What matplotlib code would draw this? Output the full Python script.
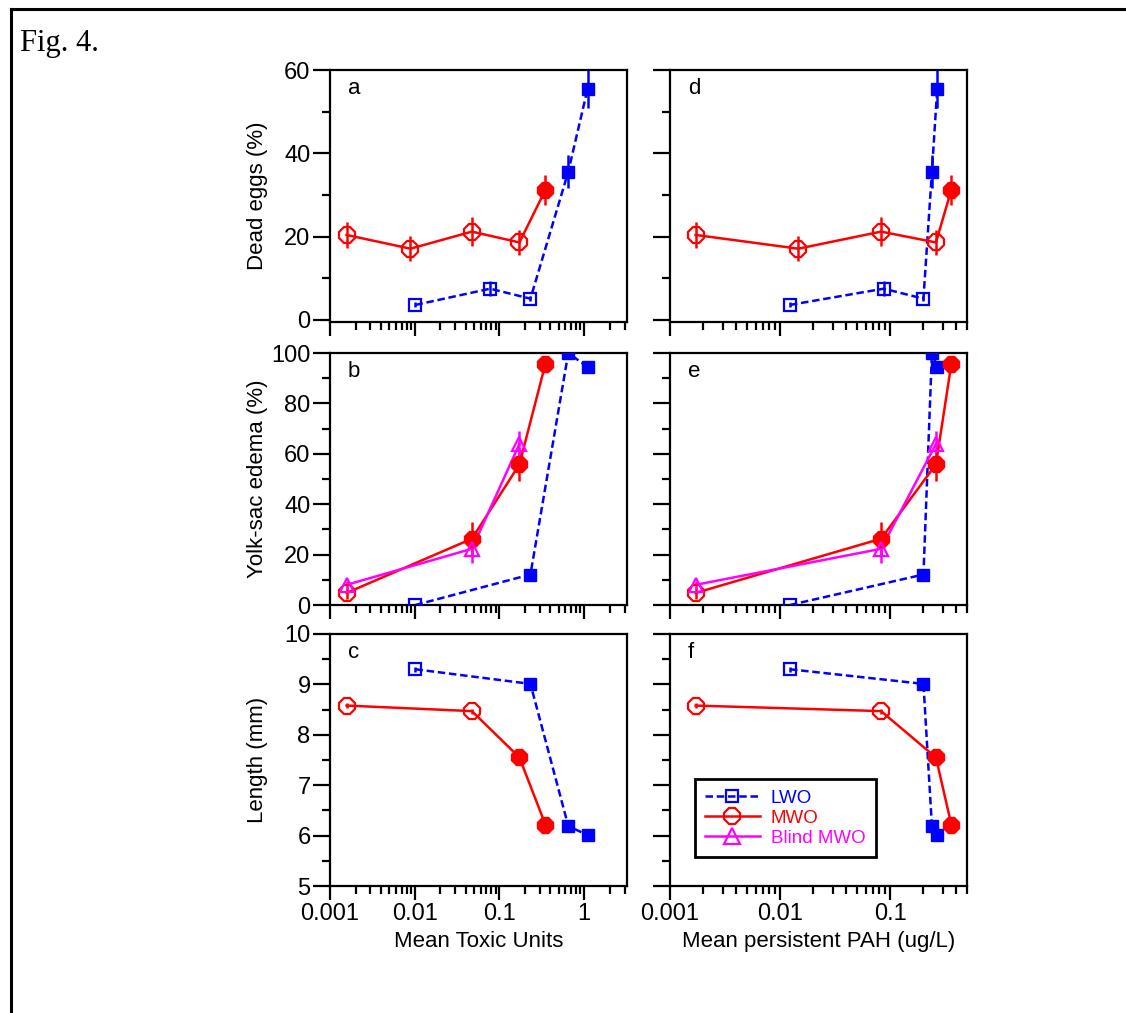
import numpy as np
import matplotlib
matplotlib.use("Agg")
import matplotlib.pyplot as plt
from matplotlib.lines import Line2D
from matplotlib.ticker import FixedLocator, MultipleLocator, LogLocator, NullFormatter, FixedFormatter

plt.rcParams['font.family'] = ['Liberation Sans', 'DejaVu Sans']

# x values (one per sample), toxic units and persistent PAH
tu_lwo = [0.0102, 0.0776, 0.232, 0.649, 1.094]
tu_mwo = [0.00157, 0.0089, 0.0473, 0.172, 0.348]
pah_lwo = [0.0123, 0.0875, 0.201, 0.240, 0.268]
pah_mwo = [0.00171, 0.01466, 0.0828, 0.261, 0.360]

# dead eggs (%)
dead_lwo_idx = [0, 1, 2, 3, 4]
dead_lwo = [3.6, 7.5, 5.1, 35.6, 55.4]
dead_lwo_err = [0.6, 1.8, 0.6, 4.0, 4.5]
dead_lwo_sig = [0, 0, 0, 1, 1]
dead_mwo_idx = [0, 1, 2, 3, 4]
dead_mwo = [20.4, 17.1, 21.2, 18.6, 31.2]
dead_mwo_err = [3.2, 3.0, 3.5, 3.0, 3.5]
dead_mwo_sig = [0, 0, 0, 0, 1]

# yolk-sac edema (%)
ede_lwo_idx = [0, 2, 3, 4]
ede_lwo = [0.0, 12.1, 100.0, 94.5]
ede_lwo_err = [0.0, 1.5, 0.0, 1.5]
ede_lwo_sig = [0, 1, 1, 1]
ede_mwo_idx = [0, 2, 3, 4]
ede_mwo = [4.8, 26.3, 55.8, 95.6]
ede_mwo_err = [2.5, 6.5, 6.5, 1.5]
ede_mwo_sig = [0, 1, 1, 1]
ede_blind_idx = [0, 2, 3]
ede_blind = [8.0, 22.3, 63.9]
ede_blind_err = [1.5, 5.5, 5.0]

# length (mm)
len_lwo_idx = [0, 2, 3, 4]
len_lwo = [9.30, 9.01, 6.19, 6.01]
len_lwo_err = [0.05, 0.05, 0.05, 0.05]
len_lwo_sig = [0, 1, 1, 1]
len_mwo_idx = [0, 2, 3, 4]
len_mwo = [8.58, 8.47, 7.55, 6.22]
len_mwo_err = [0.05, 0.05, 0.05, 0.05]
len_mwo_sig = [0, 0, 1, 1]

BLUE = '#0000FF'
RED = '#FF0000'
MAG = '#FF00FF'
DASH = (0, (3, 1.5))

fig = plt.figure(figsize=(11.26, 10.13), dpi=100)

# outer frame
fig.add_artist(Line2D([10.5/1126, 10.5/1126], [0, 1 - 9/1013], transform=fig.transFigure, color='k', lw=2.2))
fig.add_artist(Line2D([10.5/1126, 1], [1 - 9/1013, 1 - 9/1013], transform=fig.transFigure, color='k', lw=2.2))
fig.text(20/1126, 1 - 44/1013, "Fig. 4.", family=['Liberation Serif', 'DejaVu Serif'], fontsize=22, va='center', ha='left')

W = 297/1126
H = 252/1013
lefts = [330/1126, 670/1126]
bottoms = [1 - 322/1013, 1 - 605/1013, 1 - 886/1013]


def series(ax, xs, idx, y, err, sig, color, ls, marker, ms_open, ms_fill):
    x = np.array([xs[i] for i in idx])
    y = np.array(y)
    ax.errorbar(x, y, yerr=err, color=color, ls=ls, lw=1.8, capsize=0, elinewidth=1.8, zorder=3)
    sig = np.array(sig, dtype=bool)
    ax.plot(x[~sig], y[~sig], ls='none', marker=marker, ms=ms_open, mfc='none', mec=color, mew=1.6, zorder=4)
    ax.plot(x[sig], y[sig], ls='none', marker=marker, ms=ms_fill, mfc=color, mec=color, zorder=4)


def style(ax, col, row, ylim, ymaj, ymin):
    ax.set_xscale('log')
    ax.set_xlim(0.001, 3.2 if col == 0 else 0.5)
    ax.set_ylim(*ylim)
    ax.yaxis.set_major_locator(MultipleLocator(ymaj))
    ax.yaxis.set_minor_locator(MultipleLocator(ymin))
    ax.xaxis.set_major_locator(FixedLocator([0.001, 0.01, 0.1, 1]))
    ax.xaxis.set_minor_locator(LogLocator(base=10, subs=np.arange(2, 10)))
    ax.xaxis.set_minor_formatter(NullFormatter())
    if row == 2:
        ax.xaxis.set_major_formatter(FixedFormatter(['0.001', '0.01', '0.1', '1']))
    else:
        ax.xaxis.set_major_formatter(NullFormatter())
    if col == 1:
        ax.yaxis.set_major_formatter(NullFormatter())
    ax.tick_params(which='major', direction='out', length=12, width=1.6, labelsize=17, pad=2)
    ax.tick_params(which='minor', direction='out', length=6, width=1.6)
    ax.tick_params(axis='x', which='major', length=10)
    for s in ax.spines.values():
        s.set_linewidth(1.6)


panels = {}
for row in range(3):
    for col in range(2):
        panels[(row, col)] = fig.add_axes([lefts[col], bottoms[row], W, H])

letters = [['a', 'd'], ['b', 'e'], ['c', 'f']]

for col in range(2):
    xl = tu_lwo if col == 0 else pah_lwo
    xm = tu_mwo if col == 0 else pah_mwo

    ax = panels[(0, col)]
    series(ax, xl, dead_lwo_idx, dead_lwo, dead_lwo_err, dead_lwo_sig, BLUE, DASH, 's', 8, 9)
    series(ax, xm, dead_mwo_idx, dead_mwo, dead_mwo_err, dead_mwo_sig, RED, '-', '8', 12, 12)
    style(ax, col, 0, (-0.5, 60), 20, 10)

    ax = panels[(1, col)]
    series(ax, xl, ede_lwo_idx, ede_lwo, ede_lwo_err, ede_lwo_sig, BLUE, DASH, 's', 8, 9)
    series(ax, xm, ede_mwo_idx, ede_mwo, ede_mwo_err, ede_mwo_sig, RED, '-', '8', 12, 12)
    series(ax, xm, ede_blind_idx, ede_blind, ede_blind_err, [0, 0, 0], MAG, '-', '^', 10, 10)
    style(ax, col, 1, (0, 100), 20, 10)

    ax = panels[(2, col)]
    series(ax, xl, len_lwo_idx, len_lwo, len_lwo_err, len_lwo_sig, BLUE, DASH, 's', 8, 9)
    series(ax, xm, len_mwo_idx, len_mwo, len_mwo_err, len_mwo_sig, RED, '-', '8', 12, 12)
    style(ax, col, 2, (5, 10), 1, 0.5)

    for row in range(3):
        panels[(row, col)].text(0.06, 0.925, letters[row][col], transform=panels[(row, col)].transAxes,
                                fontsize=16, ha='left', va='center')

ylabels = ['Dead eggs (%)', 'Yolk-sac edema (%)', 'Length (mm)']
for row in range(3):
    ax = panels[(row, 0)]
    ax.set_ylabel(ylabels[row], fontsize=16)
    ax.yaxis.set_label_coords(-0.21, 0.5)

panels[(2, 0)].set_xlabel('Mean Toxic Units', fontsize=16)
panels[(2, 0)].xaxis.set_label_coords(0.5, -0.18)
panels[(2, 1)].set_xlabel('Mean persistent PAH (ug/L)', fontsize=16)
panels[(2, 1)].xaxis.set_label_coords(0.5, -0.18)

handles = [
    Line2D([], [], color=BLUE, ls=DASH, lw=1.8, marker='s', ms=9, mfc='none', mec=BLUE, mew=1.6),
    Line2D([], [], color=RED, ls='-', lw=1.8, marker='8', ms=12, mfc='none', mec=RED, mew=1.6),
    Line2D([], [], color=MAG, ls='-', lw=1.8, marker='^', ms=11, mfc='none', mec=MAG, mew=1.6),
]
leg = panels[(2, 1)].legend(handles, ['LWO', 'MWO', 'Blind MWO'], loc='lower left',
                            bbox_to_anchor=(0.084, 0.115), borderaxespad=0, fontsize=13.5,
                            handlelength=2.9, fancybox=False, edgecolor='k', framealpha=1,
                            borderpad=0.55, labelspacing=0.15, handletextpad=0.6)
leg.get_frame().set_linewidth(2.0)
for t, c in zip(leg.get_texts(), [BLUE, RED, MAG]):
    t.set_color(c)

fig.savefig('out.png', dpi=100)
